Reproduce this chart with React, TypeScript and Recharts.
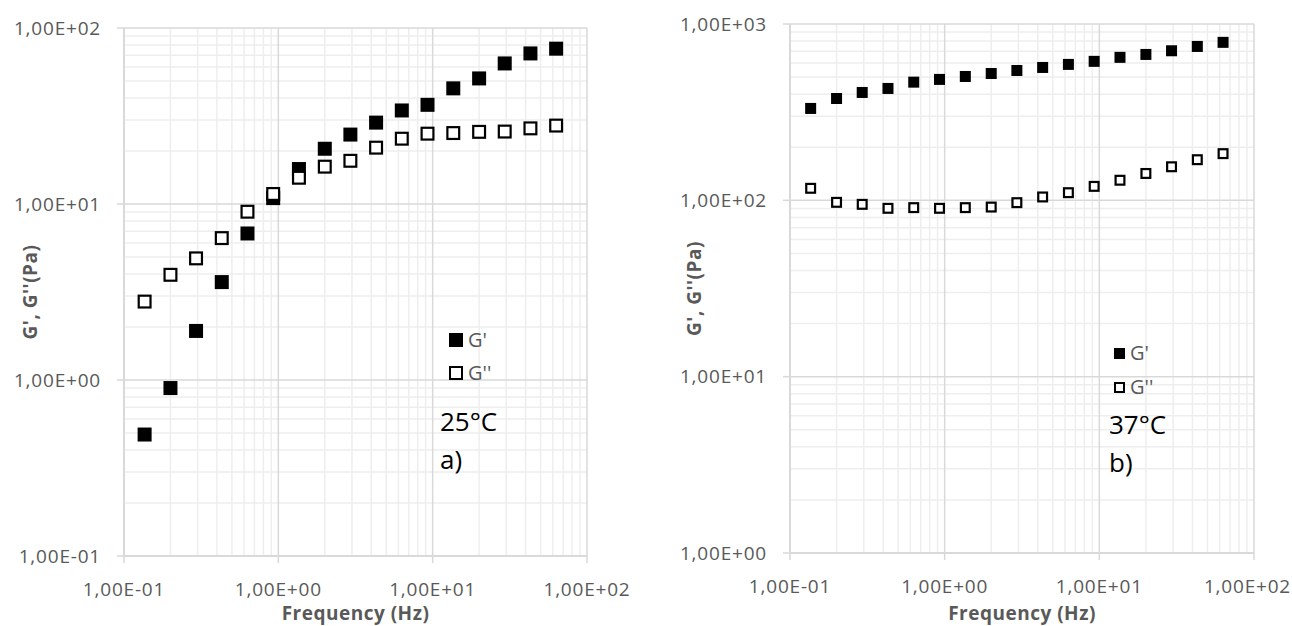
import React from 'react';
import {
  ScatterChart,
  Scatter,
  XAxis,
  YAxis,
  ReferenceLine,
  Legend,
} from 'recharts';

// frequency sweep, 6 points per decade
const freq = [0.136, 0.2, 0.293, 0.43, 0.631, 0.926, 1.36, 2, 2.93, 4.3, 6.31, 9.26, 13.6, 20, 29.3, 43, 63.1];

// a) 25°C
const g1_25 = [0.49, 0.9, 1.9, 3.6, 6.8, 10.8, 15.8, 20.6, 24.8, 29, 34, 36.6, 45.4, 51.7, 62.9, 71.7, 76.3];
const g2_25 = [2.79, 3.96, 4.91, 6.4, 9.04, 11.4, 14.1, 16.3, 17.6, 20.9, 23.5, 25.1, 25.3, 25.7, 25.8, 26.9, 27.9];

// b) 37°C
const g1_37 = [332, 378, 409, 431, 468, 485, 504, 524, 545, 567, 590, 614, 647, 672, 705, 746, 787];
const g2_37 = [117, 97.4, 94.9, 90.1, 90.9, 90.1, 90.9, 91.6, 97, 104.5, 110.5, 120, 130, 142, 155, 170, 184];

const xTicks = [0.1, 1, 10, 100];
const yTicksA = [0.1, 1, 10, 100];
const yTicksB = [1, 10, 100, 1000];

const GRID_MAJOR = '#d9d9d9';
const GRID_MINOR = '#eeeeee';
const TEXT = '#595959';

const minorsOf = (ticks: number[]) => {
  const out: number[] = [];
  for (let i = 0; i < ticks.length - 1; i++) {
    for (let m = 2; m <= 9; m++) out.push(+(ticks[i] * m).toPrecision(3));
  }
  return out;
};

const sci = (v: number) => {
  const e = Math.round(Math.log10(v));
  const m = (v / Math.pow(10, e)).toFixed(2).replace('.', ',');
  const sign = e < 0 ? '-' : '+';
  return `${m}E${sign}${String(Math.abs(e)).padStart(2, '0')}`;
};

const toPoints = (ys: number[]) => ys.map((y, i) => ({ f: freq[i], g: y }));

const tickStyle = {
  fill: TEXT,
  fontSize: 19,
  fontFamily: '"Open Sans", sans-serif',
  letterSpacing: 0.8,
};

const titleStyle = {
  fill: TEXT,
  fontSize: 19,
  fontWeight: 700,
  fontFamily: '"Open Sans", sans-serif',
  letterSpacing: 0.5,
};

// x tick label, pulled back inside the chart when it would run past the edge
const xTick = (chartW: number) => (props: any) => {
  const { x, y, payload } = props;
  let tx = x;
  let anchor: 'middle' | 'end' = 'middle';
  if (x + 45 > chartW - 1) {
    tx = chartW - 1;
    anchor = 'end';
  }
  return (
    <text x={tx} y={y} dy="0.71em" textAnchor={anchor} style={tickStyle}>
      {sci(payload.value)}
    </text>
  );
};

const square = (size: number, open: boolean) => (props: any) => {
  const { cx, cy } = props;
  if (cx == null || cy == null) return <g />;
  const sw = open ? 2.2 : 0;
  return (
    <rect
      x={cx - size / 2 + sw / 2}
      y={cy - size / 2 + sw / 2}
      width={size - sw}
      height={size - sw}
      fill={open ? '#ffffff' : '#000000'}
      stroke="#000000"
      strokeWidth={sw}
    />
  );
};

const xTitle = (props: any) => {
  const { x, y, width, height } = props.viewBox;
  return (
    <text x={x + width / 2} y={y + height - 6} textAnchor="middle" style={titleStyle}>
      Frequency (Hz)
    </text>
  );
};

const yTitle = (bx: number) => (props: any) => {
  const { y, height } = props.viewBox;
  const cy = y + height / 2;
  return (
    <text x={bx} y={cy} transform={`rotate(-90 ${bx} ${cy})`} textAnchor="middle" style={titleStyle}>
      G', G''(Pa)
    </text>
  );
};

const legendContent = (size: number, gap: number) => () => (
  <div style={{ fontFamily: '"Open Sans", sans-serif', fontSize: 20, color: TEXT, lineHeight: 1 }}>
    {[
      { name: "G'", open: false },
      { name: "G''", open: true },
    ].map((s) => (
      <div key={s.name} style={{ display: 'flex', alignItems: 'center', height: gap }}>
        <span
          style={{
            display: 'inline-block',
            width: size,
            height: size,
            boxSizing: 'border-box',
            background: s.open ? '#fff' : '#000',
            border: '2px solid #000',
            marginRight: 5,
          }}
        />
        {s.name}
      </div>
    ))}
  </div>
);

type PanelProps = {
  left: number;
  width: number;
  margin: { top: number; right: number; bottom: number; left: number };
  yWidth: number;
  xHeight: number;
  yTicks: number[];
  storage: number[];
  loss: number[];
  marker: number;
  legendPos: { left: number; top: number };
  legendSize: number;
  legendGap: number;
  titleX: number;
  temp: string;
  tag: string;
  notePos: { left: number; top: number };
};

const Panel = (p: PanelProps) => {
  const yDomain = [p.yTicks[0], p.yTicks[p.yTicks.length - 1]];
  return (
    <div style={{ position: 'absolute', left: p.left, top: 0, width: p.width, height: 626 }}>
      <ScatterChart width={p.width} height={626} margin={p.margin}>
        {minorsOf(xTicks).map((v) => (
          <ReferenceLine key={'mx' + v} x={v} stroke={GRID_MINOR} strokeWidth={1.5} />
        ))}
        {minorsOf(p.yTicks).map((v) => (
          <ReferenceLine key={'my' + v} y={v} stroke={GRID_MINOR} strokeWidth={1.5} />
        ))}
        {xTicks.slice(1).map((v) => (
          <ReferenceLine key={'Mx' + v} x={v} stroke={GRID_MAJOR} strokeWidth={1.5} />
        ))}
        {p.yTicks.slice(1).map((v) => (
          <ReferenceLine key={'My' + v} y={v} stroke={GRID_MAJOR} strokeWidth={1.5} />
        ))}
        <XAxis
          dataKey="f"
          type="number"
          scale="log"
          domain={[0.1, 100]}
          ticks={xTicks}
          allowDataOverflow
          height={p.xHeight}
          tick={xTick(p.width)}
          tickSize={7}
          tickMargin={20}
          axisLine={{ stroke: GRID_MAJOR, strokeWidth: 2 }}
          tickLine={{ stroke: GRID_MAJOR, strokeWidth: 1.5 }}
          label={{ content: xTitle }}
        />
        <YAxis
          dataKey="g"
          type="number"
          scale="log"
          domain={yDomain}
          ticks={p.yTicks}
          allowDataOverflow
          width={p.yWidth}
          tickFormatter={sci}
          tick={tickStyle}
          tickSize={7}
          tickMargin={16}
          axisLine={{ stroke: GRID_MAJOR, strokeWidth: 2 }}
          tickLine={{ stroke: GRID_MAJOR, strokeWidth: 1.5 }}
          label={{ content: yTitle(p.titleX) }}
        />
        <Scatter
          name="G'"
          data={toPoints(p.storage)}
          shape={square(p.marker, false)}
          isAnimationActive={false}
        />
        <Scatter
          name="G''"
          data={toPoints(p.loss)}
          shape={square(p.marker, true)}
          isAnimationActive={false}
        />
        <Legend
          layout="vertical"
          align="center"
          verticalAlign="middle"
          content={legendContent(p.legendSize, p.legendGap)}
          wrapperStyle={{ left: p.legendPos.left, top: p.legendPos.top, width: 'auto' }}
        />
      </ScatterChart>
      <div
        style={{
          position: 'absolute',
          left: p.notePos.left,
          top: p.notePos.top,
          fontFamily: '"Open Sans", sans-serif',
          fontSize: 26,
          lineHeight: '38px',
          color: '#000',
        }}
      >
        <div>{p.temp}</div>
        <div>{p.tag}</div>
      </div>
    </div>
  );
};

export default function App() {
  return (
    <div style={{ position: 'absolute', left: 0, top: 0, width: 1292, height: 626, background: '#fff' }}>
      <Panel
        left={0}
        width={640}
        margin={{ top: 28, right: 53, bottom: 0, left: 0 }}
        yWidth={124}
        xHeight={70}
        yTicks={yTicksA}
        storage={g1_25}
        loss={g2_25}
        marker={14}
        legendPos={{ left: 449, top: 323 }}
        legendSize={14}
        legendGap={33}
        titleX={37}
        temp="25°C"
        tag="a)"
        notePos={{ left: 440, top: 402 }}
      />
      <Panel
        left={650}
        width={642}
        margin={{ top: 24, right: 38, bottom: 0, left: 0 }}
        yWidth={140}
        xHeight={73}
        yTicks={yTicksB}
        storage={g1_37}
        loss={g2_37}
        marker={11}
        legendPos={{ left: 464, top: 336 }}
        legendSize={11}
        legendGap={34}
        titleX={51}
        temp="37°C"
        tag="b)"
        notePos={{ left: 459, top: 405 }}
      />
    </div>
  );
}
